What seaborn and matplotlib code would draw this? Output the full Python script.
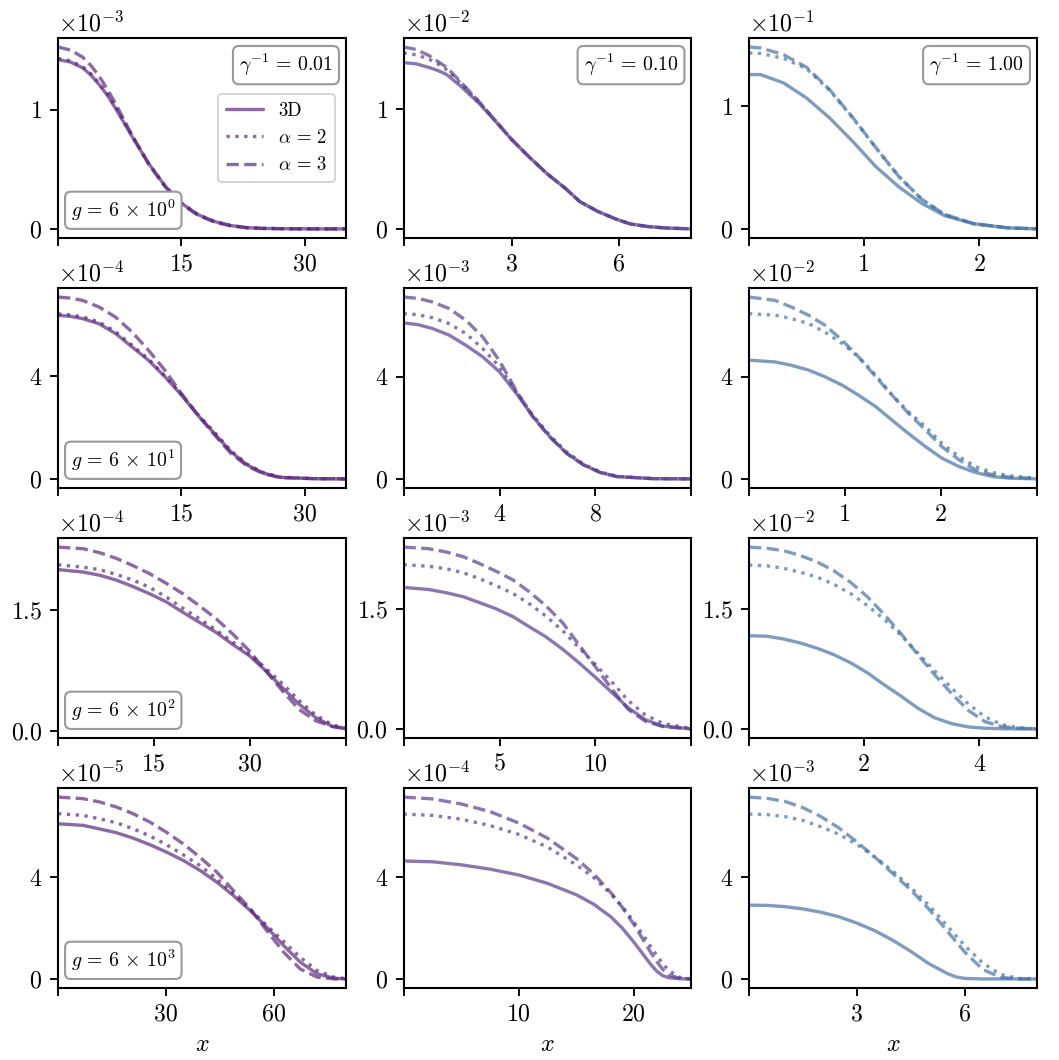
import numpy as np
import pandas as pd
import matplotlib
matplotlib.use("Agg")
import matplotlib.pyplot as plt
import seaborn as sns

# ---------------- data (values in displayed units, i.e. divided by 10**exp) ----------------
gamma_labels = ["0.01", "0.10", "1.00"]
g_labels = ["0", "1", "2", "3"]
exponents = [[-3, -2, -1], [-4, -3, -2], [-4, -3, -2], [-5, -4, -3]]
ytick_vals = [1, 4, 1.5, 4]
xlims = [[35, 8, 2.5], [35, 12, 3], [45, 15, 5], [80, 25, 8]]
xtick_vals = [[[0, 15, 30], [0, 3, 6], [0, 1, 2]],
              [[0, 15, 30], [0, 4, 8, 12], [0, 1, 2, 3]],
              [[0, 15, 30, 45], [0, 5, 10, 15], [0, 2, 4]],
              [[0, 30, 60], [0, 10, 20], [0, 3, 6]]]
model_names = ["3D", r"$\alpha\,=\,2$", r"$\alpha\,=\,3$"]

# row 1
x_00 = [0, 1.5, 3, 4, 5, 6, 7, 9, 11, 13, 15, 17, 19, 21, 23, 25, 28, 31, 35]
d3_00 = [1.42, 1.40, 1.35, 1.29, 1.21, 1.12, 1.01, 0.775, 0.55, 0.36, 0.215, 0.12, 0.062, 0.028, 0.01, 0.004, 0.001, 0, 0]
a2_00 = [1.43, 1.41, 1.36, 1.30, 1.22, 1.13, 1.02, 0.78, 0.55, 0.36, 0.215, 0.12, 0.062, 0.028, 0.01, 0.004, 0.001, 0, 0]
a3_00 = [1.525, 1.50, 1.44, 1.37, 1.28, 1.17, 1.05, 0.785, 0.545, 0.355, 0.21, 0.115, 0.058, 0.025, 0.009, 0.003, 0.001, 0, 0]

x_01 = [0, 0.35, 0.7, 0.95, 1.2, 1.6, 2.1, 2.6, 3.0, 3.5, 4.0, 4.5, 4.9, 5.4, 5.9, 6.3, 6.8, 7.3, 8.0]
d3_01 = [1.39, 1.38, 1.35, 1.325, 1.29, 1.19, 1.05, 0.885, 0.75, 0.6, 0.46, 0.34, 0.23, 0.148, 0.085, 0.044, 0.022, 0.01, 0.003]
a2_01 = [1.47, 1.455, 1.42, 1.38, 1.33, 1.215, 1.06, 0.89, 0.75, 0.6, 0.46, 0.34, 0.23, 0.148, 0.085, 0.044, 0.022, 0.01, 0.003]
a3_01 = [1.52, 1.50, 1.45, 1.40, 1.35, 1.225, 1.065, 0.89, 0.75, 0.6, 0.46, 0.34, 0.23, 0.148, 0.085, 0.044, 0.022, 0.01, 0.003]

x_02 = [0, 0.1, 0.3, 0.5, 0.7, 0.9, 1.1, 1.3, 1.5, 1.7, 1.95, 2.25, 2.5]
d3_02 = [1.258, 1.258, 1.19, 1.067, 0.905, 0.715, 0.51, 0.345, 0.21, 0.11, 0.045, 0.011, 0.003]
a2_02 = [1.433, 1.43, 1.39, 1.305, 1.13, 0.905, 0.665, 0.43, 0.243, 0.12, 0.045, 0.011, 0.003]
a3_02 = [1.482, 1.475, 1.42, 1.317, 1.135, 0.91, 0.665, 0.43, 0.243, 0.12, 0.045, 0.011, 0.003]

# row 2
x_10 = [0, 1.5, 3, 5, 7, 9, 11, 13, 15, 17, 19, 21, 23, 25, 27, 31, 35]
d3_10 = [6.36, 6.32, 6.23, 6.03, 5.65, 5.13, 4.61, 3.97, 3.26, 2.48, 1.77, 1.06, 0.54, 0.22, 0.06, 0.01, 0]
a2_10 = [6.42, 6.38, 6.30, 6.10, 5.72, 5.20, 4.66, 4.00, 3.28, 2.50, 1.82, 1.10, 0.57, 0.24, 0.07, 0.01, 0]
a3_10 = [7.07, 7.03, 6.94, 6.68, 6.29, 5.71, 5.00, 4.22, 3.32, 2.48, 1.72, 1.00, 0.50, 0.20, 0.05, 0.01, 0]

x_11 = [0, 0.6, 1.2, 1.9, 2.6, 3.3, 4.0, 4.7, 5.4, 6.1, 6.8, 7.5, 8.2, 8.9, 10.4, 12]
d3_11 = [6.11, 6.04, 5.89, 5.63, 5.23, 4.78, 4.19, 3.35, 2.43, 1.65, 1.00, 0.55, 0.25, 0.09, 0.01, 0]
a2_11 = [6.47, 6.43, 6.31, 6.08, 5.69, 5.10, 4.39, 3.41, 2.48, 1.70, 1.05, 0.58, 0.27, 0.10, 0.01, 0]
a3_11 = [7.12, 7.07, 6.93, 6.67, 6.21, 5.56, 4.62, 3.45, 2.42, 1.64, 1.00, 0.55, 0.25, 0.09, 0.01, 0]

x_12 = [0, 0.27, 0.44, 0.62, 0.79, 0.97, 1.14, 1.32, 1.49, 1.66, 1.84, 2.01, 2.19, 2.36, 2.54, 2.71, 3.0]
d3_12 = [4.65, 4.58, 4.45, 4.26, 4.00, 3.67, 3.28, 2.83, 2.30, 1.78, 1.26, 0.81, 0.48, 0.25, 0.09, 0.03, 0]
a2_12 = [6.47, 6.41, 6.28, 6.08, 5.75, 5.30, 4.78, 4.06, 3.28, 2.63, 2.04, 1.39, 0.87, 0.48, 0.25, 0.12, 0.02]
a3_12 = [7.12, 6.99, 6.73, 6.41, 6.02, 5.43, 4.78, 4.00, 3.28, 2.57, 1.91, 1.26, 0.74, 0.35, 0.16, 0.07, 0.01]

# row 3
x_20 = [0, 3.9, 6.5, 9.1, 11.7, 14.3, 16.9, 19.5, 22.1, 24.7, 27.3, 29.9, 32.5, 35.1, 37.7, 40.3, 42.9, 45]
d3_20 = [2.00, 1.97, 1.93, 1.87, 1.79, 1.70, 1.60, 1.47, 1.345, 1.22, 1.07, 0.93, 0.74, 0.53, 0.325, 0.16, 0.05, 0.02]
a2_20 = [2.06, 2.03, 2.00, 1.94, 1.87, 1.78, 1.66, 1.52, 1.39, 1.25, 1.10, 0.95, 0.77, 0.58, 0.37, 0.19, 0.07, 0.03]
a3_20 = [2.28, 2.26, 2.21, 2.14, 2.05, 1.95, 1.83, 1.70, 1.55, 1.39, 1.20, 0.99, 0.74, 0.49, 0.26, 0.12, 0.05, 0.03]

x_21 = [0, 1.3, 2.2, 3.1, 3.9, 4.8, 5.7, 6.5, 7.4, 8.3, 9.1, 10.0, 10.9, 11.7, 12.6, 13.5, 15]
d3_21 = [1.775, 1.75, 1.71, 1.66, 1.59, 1.51, 1.41, 1.29, 1.16, 1.00, 0.84, 0.65, 0.45, 0.27, 0.12, 0.04, 0.005]
a2_21 = [2.06, 2.04, 2.01, 1.96, 1.89, 1.80, 1.70, 1.58, 1.42, 1.23, 1.03, 0.81, 0.58, 0.36, 0.18, 0.075, 0.01]
a3_21 = [2.28, 2.26, 2.22, 2.16, 2.08, 1.98, 1.87, 1.73, 1.55, 1.33, 1.07, 0.78, 0.49, 0.25, 0.10, 0.035, 0.005]

x_22 = [0, 0.31, 0.6, 0.89, 1.18, 1.47, 1.77, 2.06, 2.35, 2.64, 2.93, 3.22, 3.52, 3.81, 4.1, 4.39, 4.68, 5.0]
d3_22 = [1.166, 1.16, 1.125, 1.075, 1.01, 0.93, 0.825, 0.70, 0.55, 0.41, 0.26, 0.14, 0.066, 0.025, 0.008, 0.002, 0, 0]
a2_22 = [2.05, 2.04, 2.01, 1.96, 1.90, 1.81, 1.69, 1.54, 1.37, 1.17, 0.95, 0.73, 0.51, 0.31, 0.15, 0.055, 0.015, 0]
a3_22 = [2.275, 2.26, 2.23, 2.17, 2.09, 1.98, 1.83, 1.65, 1.43, 1.19, 0.93, 0.68, 0.44, 0.23, 0.09, 0.03, 0.01, 0]

# row 4
x_30 = [0, 6.9, 11.5, 16.2, 20.8, 25.5, 30.1, 34.8, 39.4, 44.1, 48.7, 53.4, 58.0, 62.7, 67.3, 72.0, 76.7, 80]
d3_30 = [6.10, 6.04, 5.90, 5.75, 5.54, 5.28, 4.99, 4.66, 4.27, 3.81, 3.28, 2.69, 2.03, 1.31, 0.66, 0.20, 0.03, 0]
a2_30 = [6.50, 6.43, 6.30, 6.14, 5.91, 5.62, 5.28, 4.88, 4.46, 3.94, 3.35, 2.73, 2.10, 1.47, 0.85, 0.33, 0.07, 0.01]
a3_30 = [7.15, 7.09, 6.96, 6.76, 6.50, 6.17, 5.77, 5.31, 4.79, 4.20, 3.48, 2.76, 1.90, 1.05, 0.39, 0.07, 0.0, 0]

x_31 = [0, 2.5, 5, 7.5, 10, 12.5, 15, 16.5, 18, 19, 20, 21, 21.5, 22, 22.5, 23, 24, 25]
d3_31 = [4.65, 4.62, 4.50, 4.33, 4.10, 3.77, 3.32, 2.95, 2.45, 2.0, 1.45, 0.85, 0.55, 0.30, 0.13, 0.05, 0.005, 0]
a2_31 = [6.50, 6.45, 6.30, 6.05, 5.70, 5.20, 4.50, 4.00, 3.35, 2.85, 2.25, 1.60, 1.25, 0.92, 0.60, 0.35, 0.06, 0]
a3_31 = [7.17, 7.10, 6.90, 6.60, 6.15, 5.55, 4.75, 4.15, 3.40, 2.82, 2.15, 1.40, 1.02, 0.68, 0.38, 0.17, 0.02, 0]

x_32 = [0, 0.5, 1, 1.5, 2, 2.5, 3, 3.5, 4, 4.5, 5, 5.5, 5.75, 6, 6.5, 7, 7.5, 8]
d3_32 = [2.91, 2.90, 2.85, 2.76, 2.63, 2.45, 2.20, 1.90, 1.52, 1.08, 0.60, 0.22, 0.08, 0.02, 0, 0, 0, 0]
a2_32 = [6.50, 6.48, 6.40, 6.25, 6.00, 5.70, 5.30, 4.80, 4.25, 3.60, 2.90, 2.10, 1.70, 1.30, 0.62, 0.17, 0.02, 0]
a3_32 = [7.17, 7.12, 7.00, 6.75, 6.40, 5.95, 5.40, 4.80, 4.15, 3.50, 2.75, 1.90, 1.47, 1.05, 0.37, 0.06, 0, 0]

panels = [[(x_00, d3_00, a2_00, a3_00), (x_01, d3_01, a2_01, a3_01), (x_02, d3_02, a2_02, a3_02)],
          [(x_10, d3_10, a2_10, a3_10), (x_11, d3_11, a2_11, a3_11), (x_12, d3_12, a2_12, a3_12)],
          [(x_20, d3_20, a2_20, a3_20), (x_21, d3_21, a2_21, a3_21), (x_22, d3_22, a2_22, a3_22)],
          [(x_30, d3_30, a2_30, a3_30), (x_31, d3_31, a2_31, a3_31), (x_32, d3_32, a2_32, a3_32)]]

col_colors = ["#5c297e", "#583e8e", "#4873a5"]

# ---------------- style ----------------
sns.set_style("ticks")
plt.rcParams.update({
    "font.family": "serif",
    "font.serif": ["cmr10", "DejaVu Serif"],
    "mathtext.fontset": "cm",
    "axes.formatter.use_mathtext": True,
    "axes.unicode_minus": False,
    "axes.edgecolor": "black",
    "axes.linewidth": 1.0,
    "text.color": "black",
    "axes.labelcolor": "black",
    "xtick.color": "black",
    "ytick.color": "black",
    "xtick.major.size": 4,
    "ytick.major.size": 4,
    "xtick.major.width": 0.9,
    "ytick.major.width": 0.9,
    "font.size": 11,
    "xtick.labelsize": 11.5,
    "ytick.labelsize": 11.5,
    "axes.labelsize": 11.5,
})

fig, axes = plt.subplots(4, 3, figsize=(1059 / 150, 1060 / 150), dpi=150)
fig.subplots_adjust(left=0.0548, right=0.9792, top=0.9642, bottom=0.0679,
                    wspace=0.2, hspace=0.25)

dash_map = {model_names[0]: "", model_names[1]: (1, 1.65), model_names[2]: (3.7, 1.6)}

for r in range(4):
    for c in range(3):
        ax = axes[r, c]
        xs, d3, a2, a3 = panels[r][c]
        scale = 10.0 ** exponents[r][c]
        frames = []
        for name, ys in zip(model_names, (d3, a2, a3)):
            frames.append(pd.DataFrame({"x": xs, "y": np.array(ys) * scale, "model": name}))
        df = pd.concat(frames, ignore_index=True)
        sns.lineplot(data=df, x="x", y="y", style="model", style_order=model_names,
                     dashes=dash_map, color=col_colors[c], alpha=0.7, linewidth=1.6,
                     ax=ax, legend=(r == 0 and c == 0), sort=False)
        ax.set_xlim(0, xlims[r][c])
        ticks = xtick_vals[r][c]
        ax.set_xticks(ticks)
        labels = [str(t) for t in ticks]
        labels[0] = ""
        if ticks[-1] >= xlims[r][c]:
            labels[-1] = ""
        ax.set_xticklabels(labels)
        ax.set_yticks([0, ytick_vals[r] * scale])
        ax.ticklabel_format(axis="y", style="sci", scilimits=(0, 0), useMathText=True)
        ax.set_ylabel("")
        ax.set_xlabel(r"$x$" if r == 3 else "")
        for s in ax.spines.values():
            s.set_visible(True)
            s.set_color("black")

        if r == 0:
            ax.text(0.955, 0.93, r"$\gamma^{-1}\,=\,%s$" % gamma_labels[c], transform=ax.transAxes,
                    ha="right", va="top", fontsize=9.5,
                    bbox=dict(boxstyle="round,pad=0.3", fc="white", ec="#999999", lw=1.0))
        if c == 0:
            ax.text(0.045, 0.075, r"$g\,=\,6\,\times\,10^{%s}$" % g_labels[r], transform=ax.transAxes,
                    ha="left", va="bottom", fontsize=9.5,
                    bbox=dict(boxstyle="round,pad=0.3", fc="white", ec="#999999", lw=1.0))
        if r == 0 and c == 0:
            ax.legend(loc="center right", fontsize=9, frameon=True, fancybox=True,
                      framealpha=0.8, edgecolor="#cccccc", handlelength=2.0,
                      borderaxespad=0.6)

fig.savefig("out.png", dpi=150)
